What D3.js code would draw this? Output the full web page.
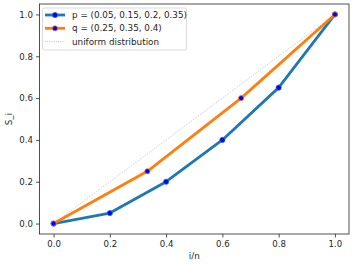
<!DOCTYPE html>
<html>
<head>
<meta charset="utf-8">
<script src="https://cdn.jsdelivr.net/npm/d3@7"></script>
<style>
  body { margin: 0; background: #fff; }
  text { font-family: "DejaVu Sans", sans-serif; fill: #262626; }
</style>
</head>
<body>
<svg width="355" height="264"></svg>
<script>
// data
const pX = [0, 0.2, 0.4, 0.6, 0.8, 1.0];
const pY = [0, 0.05, 0.2, 0.4, 0.65, 1.0];
const qX = [0, 1 / 3, 2 / 3, 1.0];
const qY = [0, 0.25, 0.6, 1.0];
const uniformX = [0, 1];
const uniformY = [0, 1];
const ticks = [0, 0.2, 0.4, 0.6, 0.8, 1.0];
const legendLabels = ["p = (0.05, 0.15, 0.2, 0.35)", "q = (0.25, 0.35, 0.4)", "uniform distribution"];

const svg = d3.select("svg");
const m = { left: 39.5, right: 349, top: 4, bottom: 234 };

const x = d3.scaleLinear().domain([-0.05, 1.05]).range([m.left, m.right]);
const y = d3.scaleLinear().domain([-0.05, 1.05]).range([m.bottom, m.top]);

const line = d3.line().x(d => x(d[0])).y(d => y(d[1]));

// axes
const xAxis = svg.append("g")
  .attr("transform", `translate(0,${m.bottom})`)
  .call(d3.axisBottom(x).tickValues(ticks).tickFormat(d3.format(".1f")).tickSize(3.5).tickPadding(3));
const yAxis = svg.append("g")
  .attr("transform", `translate(${m.left},0)`)
  .call(d3.axisLeft(y).tickValues(ticks).tickFormat(d3.format(".1f")).tickSize(3.5).tickPadding(3));
[xAxis, yAxis].forEach(a => {
  a.select(".domain").remove();
  a.selectAll("text").attr("font-size", 8.6).style("font-family", "DejaVu Sans").attr("fill", "#262626");
  a.selectAll("line").attr("stroke", "#262626").attr("stroke-width", 0.8);
});

// frame
svg.append("rect")
  .attr("x", m.left).attr("y", m.top)
  .attr("width", m.right - m.left).attr("height", m.bottom - m.top)
  .attr("fill", "none").attr("stroke", "#262626").attr("stroke-width", 0.8);

// uniform
svg.append("path")
  .datum(d3.zip(uniformX, uniformY))
  .attr("d", line)
  .attr("fill", "none").attr("stroke", "#888").attr("stroke-width", 0.6)
  .attr("stroke-dasharray", "0.8,1.4");

const series = [
  { xs: pX, ys: pY, color: "#1f77b4" },
  { xs: qX, ys: qY, color: "#ff7f0e" }
];

series.forEach(s => {
  const pts = d3.zip(s.xs, s.ys);
  svg.append("path")
    .datum(pts)
    .attr("d", line)
    .attr("fill", "none").attr("stroke", s.color).attr("stroke-width", 2.8)
    .attr("stroke-linejoin", "round");
  svg.selectAll(null)
    .data(pts)
    .enter()
    .append("circle")
    .attr("cx", d => x(d[0]))
    .attr("cy", d => y(d[1]))
    .attr("r", 2.6)
    .attr("fill", "blue")
    .attr("stroke", s.color)
    .attr("stroke-width", 0.8);
});

// legend
const lg = svg.append("g");
lg.append("rect")
  .attr("x", 42.5).attr("y", 8).attr("width", 144).attr("height", 42)
  .attr("rx", 2)
  .attr("fill", "#fff").attr("fill-opacity", 0.8)
  .attr("stroke", "#d0d0d0").attr("stroke-width", 0.8);
const rowY = [15, 28.3, 41.6];
legendLabels.forEach((label, i) => {
  const ry = rowY[i];
  if (i < 2) {
    lg.append("line")
      .attr("x1", 45).attr("x2", 65).attr("y1", ry).attr("y2", ry)
      .attr("stroke", series[i].color).attr("stroke-width", 2.8);
    lg.append("circle")
      .attr("cx", 55).attr("cy", ry).attr("r", 2.6)
      .attr("fill", "blue").attr("stroke", series[i].color).attr("stroke-width", 0.8);
  } else {
    lg.append("line")
      .attr("x1", 45).attr("x2", 65).attr("y1", ry).attr("y2", ry)
      .attr("stroke", "#888").attr("stroke-width", 0.6)
      .attr("stroke-dasharray", "0.8,1.4");
  }
  lg.append("text")
    .attr("x", 72).attr("y", ry)
    .attr("dy", "0.35em")
    .attr("font-size", 8.8)
    .text(label);
});

// axis labels
svg.append("text")
  .attr("x", (m.left + m.right) / 2).attr("y", 259)
  .attr("text-anchor", "middle").attr("font-size", 8.8)
  .text("i/n");
svg.append("text")
  .attr("transform", `translate(12,${(m.top + m.bottom) / 2}) rotate(-90)`)
  .attr("text-anchor", "middle").attr("font-size", 8.8)
  .text("S_i");
</script>
</body>
</html>
